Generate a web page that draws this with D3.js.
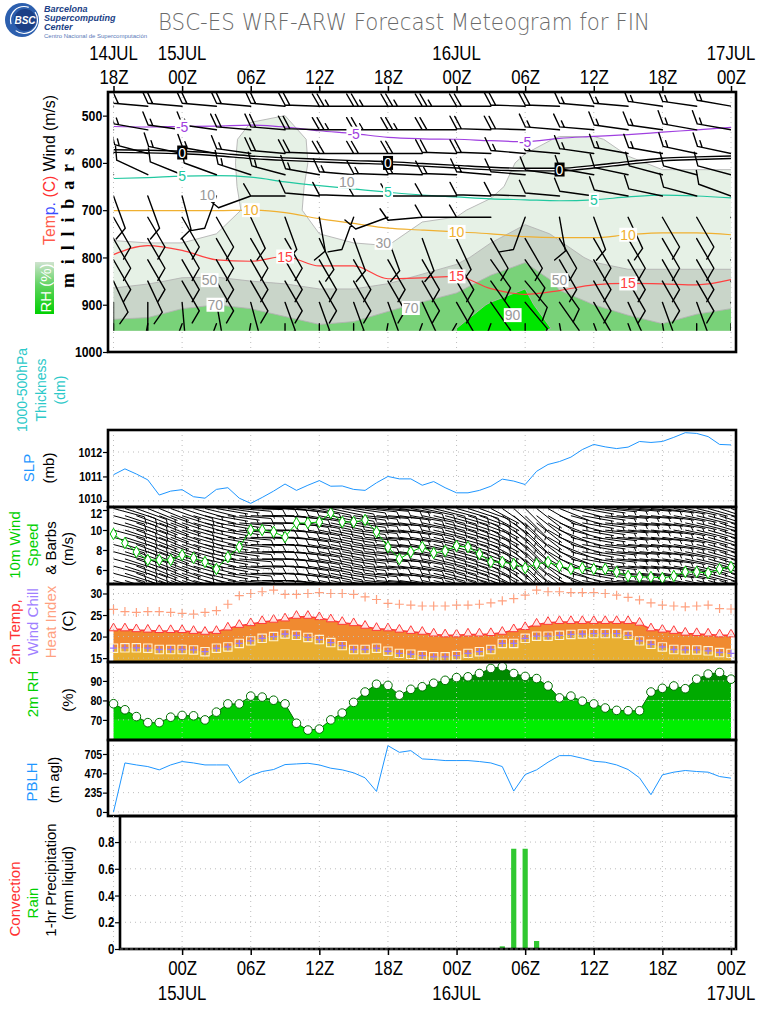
<!DOCTYPE html>
<html>
<head>
<meta charset="utf-8">
<script src="https://cdn.jsdelivr.net/npm/d3@7"></script>
<style>
  body { margin: 0; background: #fff; }
  svg { display: block; }
</style>
</head>
<body>
<svg id="chart" width="768" height="1024"></svg>
<script>
// WRF meteogram (GrADS style) redrawn with D3. Hour 0 = 14JUL 18Z, hourly to 17JUL 00Z.

// ---- time axis ----
const tickHours = [0, 6, 12, 18, 24, 30, 36, 42, 48, 54];
const topHourLabels = ["18Z", "00Z", "06Z", "12Z", "18Z", "00Z", "06Z", "12Z", "18Z", "00Z"];
const topDateLabels = ["14JUL", "15JUL", "", "", "", "16JUL", "", "", "", "17JUL"];
const bottomHourLabels = ["00Z", "06Z", "12Z", "18Z", "00Z", "06Z", "12Z", "18Z", "00Z"];
const bottomDateLabels = ["15JUL", "", "", "", "16JUL", "", "", "", "17JUL"];

// ---- hourly surface series (55 values) ----
const slp = [1011.07, 1011.31, 1011.10, 1010.86, 1010.24, 1010.40, 1010.46, 1010.17, 1010.11, 1010.47,
  1010.54, 1010.11, 1009.90, 1010.14, 1010.40, 1010.69, 1010.43, 1010.64, 1010.83, 1010.60,
  1010.61, 1010.47, 1010.43, 1010.74, 1011.00, 1010.90, 1010.90, 1010.64, 1010.79, 1010.54,
  1010.33, 1010.33, 1010.43, 1010.60, 1010.89, 1010.81, 1010.67, 1011.21, 1011.49, 1011.61,
  1011.79, 1012.10, 1012.31, 1012.21, 1012.14, 1012.20, 1012.43, 1012.39, 1012.43, 1012.60,
  1012.79, 1012.76, 1012.63, 1012.31, 1012.29];
const wspd10 = [9.6, 8.7, 7.8, 7.0, 7.0, 7.0, 7.5, 7.2, 6.8, 6.1,
  7.3, 8.3, 10.0, 10.0, 9.8, 9.3, 10.7, 10.7, 10.8, 11.7,
  10.8, 10.8, 11.0, 9.8, 8.3, 7.1, 7.8, 8.3, 7.7, 7.9,
  8.4, 8.3, 7.6, 6.8, 6.8, 6.6, 6.2, 6.6, 6.8, 6.4,
  6.1, 6.2, 6.1, 6.1, 5.8, 5.4, 5.3, 5.3, 5.2, 5.4,
  5.8, 5.8, 5.7, 6.1, 6.3];
const wdir10 = [105, 108, 110, 112, 112, 110, 108, 106, 104, 100,
  98, 95, 92, 90, 92, 95, 98, 100, 102, 102,
  100, 98, 96, 95, 95, 98, 100, 102, 104, 105,
  106, 108, 110, 118, 125, 132, 135, 128, 120, 112,
  105, 100, 98, 96, 95, 95, 95, 96, 98, 100,
  102, 104, 106, 108, 110];
const temp2 = [21.7, 21.7, 21.5, 21.4, 21.3, 21.3, 21.3, 21.1, 20.9, 21.1,
  21.9, 22.5, 22.9, 23.4, 23.7, 24.0, 24.6, 24.6, 24.3, 23.8,
  23.2, 22.9, 22.3, 21.8, 21.7, 21.4, 21.1, 20.9, 20.5, 20.3,
  20.3, 20.5, 20.5, 20.6, 20.9, 21.5, 22.0, 22.8, 23.2, 23.4,
  23.4, 23.4, 23.4, 23.4, 23.4, 23.4, 23.0, 21.7, 21.4, 21.1,
  20.7, 20.6, 20.5, 20.3, 20.3];
const dew2 = [17.3, 17.4, 17.4, 17.3, 17.0, 17.0, 17.0, 16.9, 16.5, 17.3,
  17.6, 18.4, 19.0, 19.6, 20.0, 20.6, 20.3, 19.8, 19.3, 18.6,
  17.9, 17.0, 17.0, 17.3, 16.6, 16.1, 15.9, 15.6, 15.3, 15.3,
  15.6, 16.1, 16.5, 17.0, 18.4, 18.4, 19.6, 20.1, 20.1, 20.3,
  20.5, 20.6, 20.7, 20.7, 20.7, 20.3, 19.0, 18.2, 17.6, 17.0,
  16.9, 16.9, 16.7, 16.3, 16.1];
const heatIndex = [26.3, 25.8, 25.6, 25.8, 25.8, 25.6, 25.4, 25.2, 25.6, 26.0,
  27.5, 29.5, 30.0, 30.4, 30.8, 29.8, 29.8, 30.0, 30.2, 30.0,
  30.0, 29.8, 29.2, 28.6, 27.7, 27.5, 27.3, 27.1, 27.1, 27.1,
  27.3, 27.3, 27.5, 27.8, 28.3, 28.8, 29.6, 30.8, 30.4, 30.4,
  30.2, 30.2, 30.2, 30.0, 29.6, 29.1, 28.5, 27.8, 27.3, 27.1,
  26.9, 27.1, 27.3, 26.5, 26.4];
const rh2 = [78.3, 75.2, 71.7, 68.6, 68.6, 71.4, 72.3, 72.1, 70.0, 74.0,
  78.2, 78.2, 82.2, 81.7, 80.1, 78.2, 68.3, 64.8, 65.3, 70.0,
  73.5, 79.0, 84.3, 88.3, 87.7, 82.7, 85.7, 87.0, 88.8, 90.3,
  91.7, 92.1, 93.8, 96.4, 97.3, 93.8, 92.3, 91.2, 87.4, 81.3,
  82.2, 79.6, 78.2, 76.1, 74.9, 74.7, 74.7, 84.3, 86.2, 87.4,
  86.0, 90.9, 93.5, 94.3, 90.9];
const pblh = [0, 596, 572, 552, 512, 572, 613, 596, 572, 572,
  572, 351, 443, 492, 516, 576, 584, 592, 572, 532,
  512, 476, 415, 250, 806, 725, 746, 645, 637, 625,
  625, 625, 613, 596, 552, 254, 455, 512, 605, 685,
  685, 653, 617, 605, 572, 516, 415, 210, 451, 484,
  504, 492, 484, 431, 411];
const rainPrecip = [0, 0, 0, 0, 0, 0, 0, 0, 0, 0,
  0, 0, 0, 0, 0, 0, 0, 0, 0, 0,
  0, 0, 0, 0, 0, 0, 0, 0, 0, 0,
  0, 0, 0, 0, 0.02, 0.75, 0.75, 0.06, 0, 0,
  0, 0, 0, 0, 0, 0, 0, 0, 0, 0,
  0, 0, 0, 0, 0];

// ---- upper-air fields, every 3 h ----
const profTimes = [0, 3, 6, 9, 12, 15, 18, 21, 24, 27, 30, 33, 36, 39, 42, 45, 48, 51, 54];
const rhLevels = [450, 500, 550, 600, 650, 700, 750, 800, 850, 900, 950];
const rh450 = [15, 15, 15, 15, 20, 25, 20, 15, 15, 15, 15, 15, 15, 15, 15, 15, 15, 15, 15];
const rh500 = [15, 15, 15, 18, 28, 30, 22, 15, 15, 18, 15, 12, 15, 15, 15, 15, 20, 25, 28];
const rh550 = [18, 18, 18, 22, 35, 38, 25, 18, 18, 22, 18, 15, 22, 32, 32, 25, 25, 25, 25];
const rh600 = [20, 18, 15, 20, 38, 40, 25, 12, 15, 22, 20, 18, 35, 40, 40, 32, 28, 28, 28];
const rh650 = [22, 18, 12, 18, 38, 40, 22, 10, 18, 25, 25, 25, 38, 40, 40, 38, 35, 35, 35];
const rh700 = [20, 15, 12, 15, 36, 38, 22, 15, 20, 28, 28, 35, 42, 42, 40, 38, 38, 38, 38];
const rh750 = [28, 25, 25, 30, 36, 36, 30, 25, 28, 32, 35, 45, 55, 48, 42, 40, 40, 40, 40];
const rh800 = [35, 38, 38, 40, 40, 40, 38, 38, 32, 38, 45, 58, 65, 55, 48, 45, 45, 45, 45];
const rh850 = [45, 48, 52, 52, 50, 48, 45, 45, 48, 55, 62, 74, 88, 65, 58, 55, 55, 55, 55];
const rh900 = [62, 64, 68, 70, 68, 65, 60, 60, 66, 72, 78, 92, 94, 78, 70, 66, 62, 66, 68];
const rh950 = [75, 75, 80, 82, 80, 75, 72, 74, 80, 86, 90, 95, 96, 88, 80, 75, 72, 76, 80];
const rhShadeLevels = [30, 50, 70, 90];
const rhShadeColors = ["#e6f1e6", "#c9d5c9", "#79d279", "#00e600"];
const rhLineLevels = [10, 30, 50, 70, 90];
const rhLabels = [
  { v: 10, t: 20.4, p: 640 }, { v: 10, t: 8.2, p: 668 }, { v: 30, t: 23.6, p: 769 },
  { v: 50, t: 8.4, p: 848 }, { v: 70, t: 8.9, p: 900 }, { v: 50, t: 39, p: 848 },
  { v: 70, t: 26, p: 907 }, { v: 90, t: 34.9, p: 922 }
];

// isotherms: pressure (hPa) of each temperature contour
const isoLevels = [-5, 0, 5, 10, 15];
const isoColors = ["#a040e0", "#000000", "#20c8a0", "#f0b030", "#ff4040"];
const isoM5 = [523, 524, 523, 522, 520, 524, 532, 538, 546, 549, 550, 553, 555, 548, 544, 540, 535, 530, 525];
const iso0 = [575, 576, 578, 582, 588, 592, 595, 598, 600, 604, 608, 612, 614, 614, 608, 600, 593, 590, 588];
const iso5 = [633, 631, 628, 627, 630, 640, 648, 655, 662, 668, 672, 676, 678, 680, 678, 672, 668, 670, 674];
const iso10 = [701, 701, 701, 701, 700, 705, 718, 728, 738, 742, 746, 750, 756, 758, 758, 752, 748, 748, 752];
const iso15 = [794, 775, 785, 805, 808, 798, 818, 818, 845, 843, 840, 866, 878, 870, 858, 855, 856, 858, 847];
const isoLabelTimes = [[6, 21, 36], [6, 24, 39], [6, 24, 42], [12, 30, 45], [15, 30, 45]];

// upper winds: direction (deg from) and speed (m/s) per level
const barbLevels = [480, 530, 580, 625, 670, 715, 760, 805, 850, 895, 940];
const dir480 = [275, 275, 275, 275, 275, 275, 272, 270, 270, 270, 270, 270, 272, 272, 275, 275, 278, 278, 280];
const dir530 = [280, 280, 278, 278, 275, 275, 272, 270, 270, 270, 270, 272, 272, 275, 275, 278, 278, 280, 280];
const dir580 = [285, 285, 282, 280, 278, 275, 272, 270, 270, 270, 272, 272, 275, 275, 278, 280, 280, 282, 282];
const dir625 = [295, 295, 292, 290, 288, 285, 280, 275, 272, 272, 272, 275, 275, 278, 280, 282, 285, 285, 285];
const dir670 = [160, 160, 165, 200, 250, 270, 275, 272, 270, 270, 270, 272, 272, 275, 278, 280, 282, 285, 290];
const dir715 = [150, 150, 150, 150, 155, 160, 170, 200, 250, 265, 270, 270, 200, 170, 160, 155, 150, 150, 150];
const dir760 = [150, 150, 150, 150, 150, 150, 155, 160, 160, 160, 155, 150, 150, 150, 150, 150, 150, 150, 150];
const dir805 = [150, 150, 150, 150, 150, 150, 150, 150, 150, 150, 150, 145, 145, 150, 150, 150, 150, 150, 150];
const dir850 = [155, 155, 150, 150, 150, 150, 150, 150, 150, 150, 150, 145, 140, 145, 150, 150, 150, 150, 150];
const dir895 = [180, 180, 175, 170, 165, 160, 160, 160, 160, 155, 150, 145, 140, 145, 150, 155, 160, 160, 160];
const dir940 = [180, 190, 200, 200, 190, 180, 180, 180, 190, 200, 210, 200, 180, 170, 160, 160, 170, 180, 180];
const spd480 = [18, 18, 18, 18, 18, 20, 22, 25, 25, 25, 25, 22, 20, 18, 16, 15, 15, 15, 15];
const spd530 = [16, 16, 16, 16, 18, 20, 22, 25, 25, 25, 22, 20, 18, 16, 15, 15, 14, 14, 14];
const spd580 = [14, 14, 14, 15, 16, 18, 20, 22, 22, 22, 20, 18, 16, 15, 14, 14, 13, 13, 13];
const spd625 = [12, 12, 12, 12, 14, 15, 15, 16, 16, 15, 14, 13, 12, 12, 12, 12, 12, 12, 12];
const spd670 = [10, 10, 10, 10, 10, 12, 12, 12, 12, 12, 12, 11, 10, 10, 10, 10, 10, 11, 11];
const spd715 = [10, 10, 10, 10, 10, 10, 10, 10, 10, 10, 10, 10, 10, 10, 10, 10, 10, 11, 11];
const spd760 = [11, 11, 11, 11, 11, 11, 11, 10, 10, 10, 10, 10, 10, 11, 11, 11, 11, 12, 12];
const spd805 = [11, 11, 11, 11, 11, 11, 11, 11, 11, 11, 11, 12, 12, 12, 12, 12, 12, 12, 12];
const spd850 = [10, 10, 10, 10, 10, 10, 10, 10, 10, 10, 11, 12, 12, 12, 12, 12, 12, 12, 12];
const spd895 = [6, 6, 6, 6, 7, 7, 7, 7, 8, 8, 9, 10, 10, 10, 10, 9, 9, 9, 9];
const spd940 = [5, 5, 5, 5, 5, 5, 5, 5, 5, 5, 6, 6, 6, 6, 5, 5, 5, 5, 5];

const rhGrid = [rh450, rh500, rh550, rh600, rh650, rh700, rh750, rh800, rh850, rh900, rh950];
const isoPressures = [isoM5, iso0, iso5, iso10, iso15];
const barbDirs = [dir480, dir530, dir580, dir625, dir670, dir715, dir760, dir805, dir850, dir895, dir940];
const barbSpds = [spd480, spd530, spd580, spd625, spd670, spd715, spd760, spd805, spd850, spd895, spd940];

// ---------------------------------------------------------------------------
const SANS = "'Liberation Sans',Arial,sans-serif";
const svg = d3.select("#chart");
const defs = svg.append("defs");
const hours = slp.map((d, i) => i);

const frameL = 108, frameR = 736;
const x = d3.scaleLinear().domain([0, 54]).range([113.5, 731]);

const yP = d3.scaleLinear().domain([450, 1000]).range([92, 352]);
const ySlp = d3.scaleLinear().domain([1009.75, 1012.9]).range([507, 430]);
const yW10 = d3.scaleLinear().domain([4.6, 12.3]).range([584, 507]);
const yT = d3.scaleLinear().domain([14.1, 32.2]).range([662, 584]);
const yRh = d3.scaleLinear().domain([59.7, 99.7]).range([740, 662]);
const yPbl = d3.scaleLinear().domain([-49, 875]).range([816, 740]);
const yPcp = d3.scaleLinear().domain([0, 0.995]).range([949, 816]);

function clip(id, x0, y0, x1, y1) {
  defs.append("clipPath").attr("id", id).append("rect")
    .attr("x", x0).attr("y", y0).attr("width", x1 - x0).attr("height", y1 - y0);
  return `url(#${id})`;
}

function dottedGrid(y, ticks, left) {
  const g = svg.append("g").attr("stroke", "#bdbdbd").attr("stroke-width", 1).attr("stroke-dasharray", "1,4");
  const [t, b] = d3.extent(y.range());
  g.selectAll("line.v").data(tickHours).join("line").attr("class", "v")
    .attr("x1", d => x(d)).attr("x2", d => x(d)).attr("y1", t).attr("y2", b);
  g.selectAll("line.h").data(ticks).join("line").attr("class", "h")
    .attr("x1", left).attr("x2", frameR).attr("y1", d => y(d)).attr("y2", d => y(d));
}

function frame(y, left = frameL) {
  const [t, b] = d3.extent(y.range());
  svg.append("rect").attr("x", left).attr("y", t).attr("width", frameR - left).attr("height", b - t)
    .attr("fill", "none").attr("stroke", "#000").attr("stroke-width", 2.6);
}

// GrADS fonts are narrow, so tick labels are squeezed horizontally
function yAxis(y, ticks, fmt, left = frameL, size = 13, nudge = {}) {
  const g = svg.append("g").attr("transform", `translate(${left},0)`)
    .call(d3.axisLeft(y).tickValues(ticks).tickSize(5).tickPadding(2).tickFormat(fmt));
  g.select(".domain").remove();
  g.selectAll("line").attr("stroke", "#000").attr("stroke-width", 1.2);
  g.selectAll("text").attr("font-family", SANS).attr("font-weight", "bold")
    .attr("font-size", size).attr("fill", "#000")
    .attr("transform", d => `translate(0,${nudge[d] || 0}) scale(0.82,1)`);
}

// rotated multi-colour label: parts = [[text, colour], ...]
function vlabel(cx, cy, parts, size = 14, family = SANS) {
  const t = svg.append("text").attr("transform", `translate(${cx},${cy}) rotate(-90)`)
    .attr("text-anchor", "middle").attr("dominant-baseline", "central")
    .attr("font-family", family).attr("font-size", size);
  parts.forEach(([s, c]) => t.append("tspan").attr("fill", c).text(s));
  return t;
}

function boxedLabel(g, cx, cy, txt, color, bg) {
  const t = g.append("text").attr("x", cx).attr("y", cy).attr("text-anchor", "middle")
    .attr("dominant-baseline", "central").attr("font-family", SANS).attr("font-size", 14)
    .attr("fill", color).text(txt);
  const bb = t.node().getBBox();
  g.insert("rect", () => t.node()).attr("x", bb.x - 1).attr("y", bb.y + 1)
    .attr("width", bb.width + 2).attr("height", bb.height - 2).attr("fill", bg);
}

// GrADS-like wind barb: staff towards where the wind comes from, feathers on the clockwise side
function barb(px, py, dir, spd, L, F) {
  const a = dir * Math.PI / 180;
  const ux = Math.sin(a), uy = -Math.cos(a);
  const qx = Math.cos(a), qy = Math.sin(a);
  const fx = qx * 0.87 + ux * 0.5, fy = qy * 0.87 + uy * 0.5;
  const step = F * 0.34;
  let s = Math.round(spd / 5) * 5;
  let pos = L;
  const at = p => [px + ux * p, py + uy * p];
  let d = `M${px},${py}L${at(L)}`;
  while (s >= 50) {
    const [bx, by] = at(pos), [ex, ey] = at(pos - step * 1.8);
    d += `M${bx},${by}L${bx + qx * F},${by + qy * F}L${ex},${ey}Z`;
    pos -= step * 2.4; s -= 50;
  }
  while (s >= 10) {
    const [bx, by] = at(pos);
    d += `M${bx},${by}l${fx * F},${fy * F}`;
    pos -= step; s -= 10;
  }
  if (s >= 5) {
    if (pos === L) pos -= step;
    const [bx, by] = at(pos);
    d += `M${bx},${by}l${fx * F * 0.5},${fy * F * 0.5}`;
  }
  return d;
}

// ---- logo & title ----
const logo = svg.append("g");
logo.append("circle").attr("cx", 22).attr("cy", 20).attr("r", 17).attr("fill", "#2c5fae");
logo.append("circle").attr("cx", 24).attr("cy", 20).attr("r", 13.5).attr("fill", "none")
  .attr("stroke", "#ffffff").attr("stroke-width", 1.2).attr("stroke-dasharray", "30,8");
logo.append("circle").attr("cx", 25).attr("cy", 20).attr("r", 11).attr("fill", "#1b3f86");
logo.append("text").attr("x", 25).attr("y", 24).attr("text-anchor", "middle")
  .attr("font-family", SANS).attr("font-weight", "bold").attr("font-style", "italic")
  .attr("font-size", 10).attr("fill", "#fff").text("BSC");
[["Barcelona", 12], ["Supercomputing", 21], ["Center", 30]].forEach(([s, yy]) =>
  logo.append("text").attr("x", 44).attr("y", yy).attr("font-family", SANS).attr("font-weight", "bold")
    .attr("font-style", "italic").attr("font-size", 9).attr("fill", "#1b3f86").text(s));
logo.append("text").attr("x", 44).attr("y", 38).attr("font-family", SANS).attr("font-size", 6)
  .attr("fill", "#5a7ab8").text("Centro Nacional de Supercomputación");

svg.append("text").attr("x", 158).attr("y", 30).attr("font-family", "'DejaVu Sans',sans-serif")
  .attr("font-weight", 200).attr("font-size", 23).attr("fill", "#6a6a6a")
  .attr("textLength", 492).attr("lengthAdjust", "spacingAndGlyphs")
  .text("BSC-ES WRF-ARW Forecast Meteogram for FIN");

// ---- top time axis ----
const topAx = svg.append("g").attr("transform", "translate(0,92)")
  .call(d3.axisTop(x).tickValues(tickHours).tickSize(6).tickPadding(2).tickFormat((d, i) => topHourLabels[i]));
topAx.select(".domain").remove();
topAx.selectAll("line").attr("stroke", "#000").attr("stroke-width", 1.5);
topAx.selectAll("text").attr("font-family", SANS).attr("font-size", 21).attr("fill", "#000")
  .attr("transform", "scale(0.8,1)");
svg.append("g").selectAll("text").data(tickHours).join("text")
  .attr("transform", d => `translate(${x(d)},60) scale(0.8,1)`).attr("text-anchor", "middle")
  .attr("font-family", SANS).attr("font-size", 21).attr("fill", "#000")
  .text((d, i) => topDateLabels[i]);

// ---- upper-air panel ----
dottedGrid(yP, [], frameL);
const upClip = clip("upclip", x(0), yP(450), x(54), yP(955));
const up = svg.append("g").attr("clip-path", upClip);

const nT = profTimes.length, nP = rhLevels.length;
const gx = d3.scaleLinear().domain([0.5, nT - 0.5]).range([x(profTimes[0]), x(profTimes[nT - 1])]);
const gy = d3.scaleLinear().domain([0.5, nP - 0.5]).range([yP(rhLevels[0]), yP(rhLevels[nP - 1])]);
const gridPath = d3.geoPath(d3.geoTransform({ point(px, py) { this.stream.point(gx(px), gy(py)); } }));
const rhValues = rhGrid.flat();

up.selectAll("path.rhfill")
  .data(d3.contours().size([nT, nP]).thresholds(rhShadeLevels)(rhValues))
  .join("path").attr("class", "rhfill").attr("d", gridPath)
  .attr("fill", (d, i) => rhShadeColors[i]);
up.selectAll("path.rhline")
  .data(d3.contours().size([nT, nP]).thresholds(rhLineLevels)(rhValues))
  .join("path").attr("class", "rhline").attr("d", gridPath)
  .attr("fill", "none").attr("stroke", "#b3b3b3").attr("stroke-width", 0.9);

const isoLine = d3.line().x((d, i) => x(profTimes[i])).y(d => yP(d)).curve(d3.curveMonotoneX);
isoPressures.forEach((ps, k) => {
  if (isoLevels[k] === 0) {
    up.append("path").attr("d", isoLine(ps)).attr("fill", "none").attr("stroke", "#000").attr("stroke-width", 4);
    up.append("path").attr("d", isoLine(ps)).attr("fill", "none").attr("stroke", "#fff").attr("stroke-width", 1.2);
  } else {
    up.append("path").attr("d", isoLine(ps)).attr("fill", "none")
      .attr("stroke", isoColors[k]).attr("stroke-width", 1.2);
  }
});

// staff length equals the 3-h spacing so that westerly staffs join into rows, as in GrADS output
const barbL = x(profTimes[1]) - x(profTimes[0]);
const barbG = up.append("g").attr("fill", "#000").attr("stroke", "#000").attr("stroke-width", 1.4)
  .attr("stroke-linecap", "round");
barbLevels.forEach((lev, li) => {
  const d = profTimes.map((t, i) => barb(x(t), yP(lev), barbDirs[li][i], barbSpds[li][i], barbL, 14)).join("");
  barbG.append("path").attr("d", d).attr("fill", "none");
});

const labG = svg.append("g");
rhLabels.forEach(l => boxedLabel(labG, x(l.t), yP(l.p), String(l.v), "#9a9a9a", "#ffffff"));
isoLevels.forEach((lev, k) => {
  isoLabelTimes[k].forEach(t => {
    const p = isoPressures[k][profTimes.indexOf(t)];
    if (lev === 0) boxedLabel(labG, x(t), yP(p), "0", "#ffffff", "#000000");
    else boxedLabel(labG, x(t), yP(p), String(lev), isoColors[k], "#ffffff");
  });
});

frame(yP);
yAxis(yP, [500, 600, 700, 800, 900, 1000], d3.format("d"), frameL, 15);

vlabel(49, 170, [["Tem", "#ff5a4a"], ["p.", "#3a4cff"], [" (C) ", "#ff3030"], ["Wind (m/s)", "#000"]], 16)
  .attr("textLength", 150).attr("lengthAdjust", "spacingAndGlyphs");
vlabel(68, 218, [["millibars", "#000"]], 18, "'Liberation Serif',serif")
  .attr("font-weight", "bold").attr("textLength", 140);
const grad = defs.append("linearGradient").attr("id", "rhgrad").attr("x1", 0).attr("y1", 1).attr("x2", 0).attr("y2", 0);
grad.append("stop").attr("offset", 0).attr("stop-color", "#00d000");
grad.append("stop").attr("offset", 0.55).attr("stop-color", "#5fd35f");
grad.append("stop").attr("offset", 1).attr("stop-color", "#cfe3cf");
svg.append("rect").attr("x", 35).attr("y", 262).attr("width", 19).attr("height", 52).attr("fill", "url(#rhgrad)");
vlabel(45, 288, [["RH (%)", "#ffffff"]], 15);

// ---- thickness (no data drawn) ----
vlabel(22, 390, [["1000-500hPa", "#2cc9c9"]], 14);
vlabel(41, 390, [["Thickness", "#2cc9c9"]], 14);
vlabel(60, 390, [["(dm)", "#2cc9c9"]], 14);

// ---- sea-level pressure ----
dottedGrid(ySlp, [1010, 1011, 1012], frameL);
svg.append("path").datum(slp).attr("fill", "none").attr("stroke", "#1e96ff").attr("stroke-width", 1)
  .attr("d", d3.line().x((d, i) => x(hours[i])).y(d => ySlp(d)));
frame(ySlp);
yAxis(ySlp, [1010, 1011, 1012], d3.format("d"), frameL, 13, { 1010: -3 });
vlabel(28, 468, [["SLP", "#1e96ff"]], 15);
vlabel(48, 468, [["(mb)", "#000"]], 15);

// ---- 10 m wind ----
dottedGrid(yW10, [6, 8, 10, 12], frameL);
const w10Clip = clip("w10clip", frameL, 507, frameR, 584);
const barbRows = d3.range(4.95, 12.3, 0.72);
const w10Barbs = hours.map(i => barbRows.map(r => barb(x(i), yW10(r), wdir10[i], wspd10[i], 32, 8)).join("")).join("");
svg.append("path").attr("clip-path", w10Clip).attr("d", w10Barbs).attr("fill", "none")
  .attr("stroke", "#000").attr("stroke-width", 1);
svg.append("path").datum(wspd10).attr("fill", "none").attr("stroke", "#00c000").attr("stroke-width", 1)
  .attr("d", d3.line().x((d, i) => x(hours[i])).y(d => yW10(d)));
svg.append("g").selectAll("path").data(wspd10).join("path")
  .attr("d", d3.symbol(d3.symbolDiamond, 38))
  .attr("transform", (d, i) => `translate(${x(hours[i])},${yW10(d)})`)
  .attr("fill", "#fff").attr("stroke", "#00c000").attr("stroke-width", 1);
frame(yW10);
yAxis(yW10, [6, 8, 10, 12], d3.format("d"), frameL, 13, { 12: 3 });
vlabel(14, 545, [["10m Wind", "#00d000"]], 15);
vlabel(32, 545, [["Speed", "#00d000"]], 15);
vlabel(50, 548, [["& Barbs", "#000"]], 15);
vlabel(67, 549, [["(m/s)", "#000"]], 15);

// ---- 2 m temperature ----
const tBottom = yT.range()[0];
const tClip = clip("tclip", frameL, 584, frameR, 662);
const tg = svg.append("g").attr("clip-path", tClip);
tg.append("path").datum(temp2).attr("fill", "#f08a30")
  .attr("d", d3.area().x((d, i) => x(hours[i])).y0(tBottom).y1(d => yT(d)));
tg.append("path").datum(dew2).attr("fill", "#e8ae30")
  .attr("d", d3.area().x((d, i) => x(hours[i])).y0(tBottom).y1(d => yT(d)));
dottedGrid(yT, [15, 20, 25, 30], frameL);
tg.append("path").datum(temp2).attr("fill", "none").attr("stroke", "#ff3a3a").attr("stroke-width", 1.5)
  .attr("d", d3.line().x((d, i) => x(hours[i])).y(d => yT(d)));
tg.selectAll("path.tri").data(temp2).join("path").attr("class", "tri")
  .attr("d", d3.symbol(d3.symbolTriangle, 34))
  .attr("transform", (d, i) => `translate(${x(hours[i])},${yT(d) - 1})`)
  .attr("fill", "#ffe6e6").attr("stroke", "#ff3a3a").attr("stroke-width", 1);
tg.selectAll("path.sq").data(dew2).join("path").attr("class", "sq")
  .attr("d", d3.symbol(d3.symbolSquare, 70))
  .attr("transform", (d, i) => `translate(${x(hours[i])},${yT(d)})`)
  .attr("fill", "none").attr("stroke", "#fff3d2").attr("stroke-width", 1.1);
const plus = r => `M${-r},0H${r}M0,${-r}V${r}`;
tg.selectAll("path.wc").data(dew2).join("path").attr("class", "wc")
  .attr("d", plus(3.5)).attr("transform", (d, i) => `translate(${x(hours[i])},${yT(d)})`)
  .attr("stroke", "#9a78ff").attr("stroke-width", 1.3);
tg.selectAll("path.hi").data(heatIndex).join("path").attr("class", "hi")
  .attr("d", plus(4.5)).attr("transform", (d, i) => `translate(${x(hours[i])},${yT(d)})`)
  .attr("stroke", "#ffa07e").attr("stroke-width", 1.2);
frame(yT);
yAxis(yT, [15, 20, 25, 30], d3.format("d"));
vlabel(14, 632, [["2m Temp,", "#ff3030"]], 15);
vlabel(32, 622, [["Wind Chill", "#a080ff"]], 15);
vlabel(50, 622, [["Heat Index", "#ffa080"]], 15);
vlabel(67, 621, [["(C)", "#000"]], 15);

// ---- 2 m relative humidity ----
const rhBottom = yRh.range()[0];
defs.append("clipPath").attr("id", "rharea").append("path").datum(rh2)
  .attr("d", d3.area().x((d, i) => x(hours[i])).y0(rhBottom).y1(d => yRh(d)));
const rhBands = [59.7, 70, 80, 90, 99.7];
const rhBandColors = ["#00f000", "#00c800", "#00aa00", "#008a00"];
const rg = svg.append("g").attr("clip-path", "url(#rharea)");
rhBandColors.forEach((c, i) => rg.append("rect").attr("x", frameL).attr("width", frameR - frameL)
  .attr("y", yRh(rhBands[i + 1])).attr("height", yRh(rhBands[i]) - yRh(rhBands[i + 1])).attr("fill", c));
dottedGrid(yRh, [70, 80, 90], frameL);
svg.append("path").datum(rh2).attr("fill", "none").attr("stroke", "#006e00").attr("stroke-width", 1)
  .attr("d", d3.line().x((d, i) => x(hours[i])).y(d => yRh(d)));
svg.append("g").attr("clip-path", clip("rhclip", frameL, 662, frameR, 740))
  .selectAll("circle").data(rh2).join("circle")
  .attr("cx", (d, i) => x(hours[i])).attr("cy", d => yRh(d)).attr("r", 4.3)
  .attr("fill", "#fff").attr("stroke", "#006e00").attr("stroke-width", 1);
frame(yRh);
yAxis(yRh, [70, 80, 90], d3.format("d"));
vlabel(32, 694, [["2m RH", "#00d000"]], 15);
vlabel(67, 700, [["(%)", "#000"]], 15);

// ---- PBL height ----
dottedGrid(yPbl, [0, 235, 470, 705], frameL);
svg.append("path").datum(pblh).attr("fill", "none").attr("stroke", "#1e96ff").attr("stroke-width", 1)
  .attr("d", d3.line().x((d, i) => x(hours[i])).y(d => yPbl(d)));
frame(yPbl);
yAxis(yPbl, [0, 235, 470, 705], d3.format("d"));
vlabel(31, 782, [["PBLH", "#1e96ff"]], 15);
vlabel(53, 780, [["(m agl)", "#000"]], 15);

// ---- 1-hr precipitation ----
const pcpL = 120;
dottedGrid(yPcp, [0.2, 0.4, 0.6, 0.8], pcpL);
svg.append("g").selectAll("rect").data(rainPrecip).join("rect")
  .attr("x", (d, i) => x(hours[i]) - 2.6).attr("width", 5.2)
  .attr("y", d => yPcp(d)).attr("height", d => yPcp(0) - yPcp(d)).attr("fill", "#30c830");
frame(yPcp, pcpL);
svg.append("line").attr("x1", pcpL).attr("x2", frameR).attr("y1", yPcp(0)).attr("y2", yPcp(0))
  .attr("stroke", "#666").attr("stroke-width", 1).attr("stroke-dasharray", "3,2");
yAxis(yPcp, [0, 0.2, 0.4, 0.6, 0.8], d => d === 0 ? "0" : d3.format(".1f")(d), pcpL, 14);
vlabel(14, 899, [["Convection", "#ff3030"]], 15);
vlabel(32, 903, [["Rain", "#00d000"]], 15);
vlabel(50, 880, [["1-hr Precipitation", "#000"]], 15);
vlabel(67, 883, [["(mm liquid)", "#000"]], 15);

// ---- bottom time axis ----
const botHours = tickHours.slice(1);
const botAx = svg.append("g").attr("transform", `translate(0,${yPcp(0)})`)
  .call(d3.axisBottom(x).tickValues(botHours).tickSize(6).tickPadding(5).tickFormat((d, i) => bottomHourLabels[i]));
botAx.select(".domain").remove();
botAx.selectAll("line").attr("stroke", "#000").attr("stroke-width", 1.5);
botAx.selectAll("text").attr("font-family", SANS).attr("font-size", 21).attr("fill", "#000")
  .attr("transform", "scale(0.8,1)");
svg.append("g").selectAll("text").data(botHours).join("text")
  .attr("transform", d => `translate(${x(d)},1000) scale(0.8,1)`).attr("text-anchor", "middle")
  .attr("font-family", SANS).attr("font-size", 21).attr("fill", "#000")
  .text((d, i) => bottomDateLabels[i]);
</script>
</body>
</html>
